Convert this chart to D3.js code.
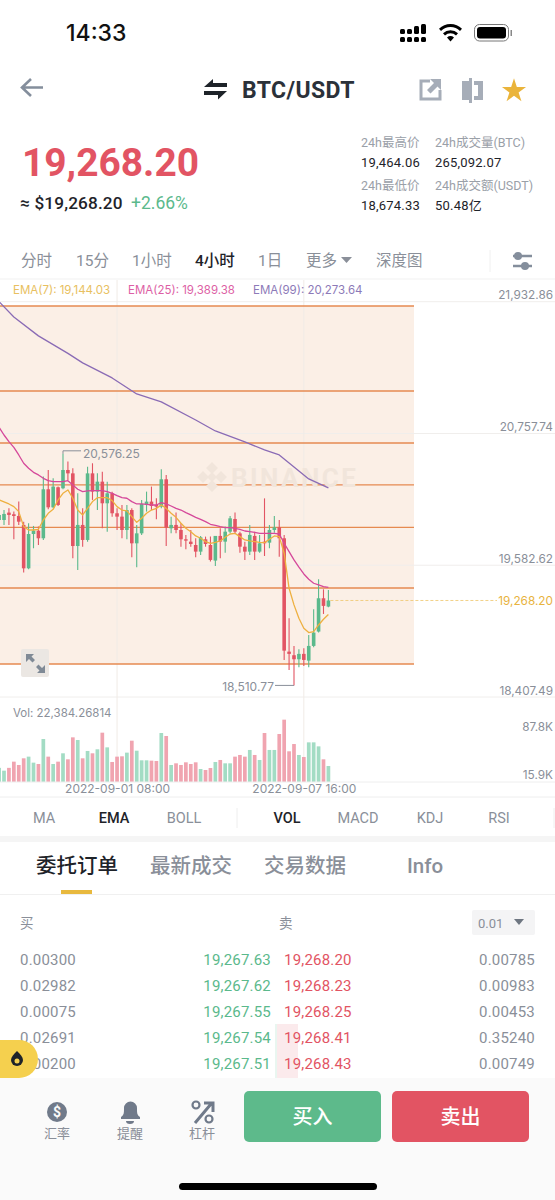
<!DOCTYPE html>
<html><head><meta charset="utf-8">
<script src="https://cdn.jsdelivr.net/npm/d3@7/dist/d3.min.js"></script>
<style>
html,body{margin:0;padding:0;background:#fff;width:555px;height:1200px;overflow:hidden}
svg{display:block}
text{font-family:Roboto,"Noto Sans CJK SC",sans-serif}
</style></head><body><svg id="c" width="555" height="1200" viewBox="0 0 555 1200"></svg>
<script>
// ---- chart data ----
const highs=[20075,20075,20090,20061,20150,19971,19957,19933,19927,20373,20432,20358,20284,20576.25,20507,20447,20224,20090,20462,20492,20402,20417,20328,20239,20090,20120,20120,20090,19942,20165,20239,20284,20179,20438,20388,20016,20052,19957,19852,19897,19823,19844,19838,19838,19844,19912,19927,20022,20052,19882,19793,19942,19882,19853,20179,19942,20022,19986,19853,19110,18863,18833,18842,18961,19190,19458,19368,19362];
const lows=[19942,19942,19942,19814,19942,19517,19546,19734,19763,19808,20081,20090,20111,20260,20343,19644,19540,19748,19793,20165,20075,19912,19882,20016,19897,19823,19814,19653,19564,19852,20061,20075,19992,20090,19754,19867,19867,19748,19725,19748,19653,19674,19748,19615,19576,19644,19695,19867,19867,19695,19630,19674,19630,19695,19665,19734,19873,19659,18738,18649,18510.77,18673,18685,18673,18851,18982,19148,19208];
const opens=[19986,19986,20052,20037,20022,19942,19555,19861,19891,19823,20260,20099,20278,20269,20432,20402,19754,19942,19808,20402,20239,20328,20135,20224,20046,20016,19897,20075,19778,19867,20120,20150,20120,20105,20349,19912,19942,19897,19814,19793,19763,19704,19814,19763,19624,19844,19793,19882,19995,19867,19748,19704,19844,19704,19793,19784,19897,19921,19823,18812,18780,18744,18792,18732,18863,18991,19288,19214];
const closes=[20031,20040,20031,20022,19971,19555,19861,19891,19823,20260,20099,20284,20120,20432,20402,19754,19942,19808,20402,20239,20328,20135,20224,20046,20016,19897,20075,19778,19867,20129,20150,20111,20105,20349,19918,19942,19897,19814,19802,19772,19704,19832,19772,19630,19844,19793,19882,20001,19882,19748,19704,19853,19704,19778,19778,19897,19921,19823,18821,18792,18744,18792,18738,18863,18982,19288,19220,19268.2];
const volumes=[26.6,22.4,26.6,35.9,30.9,40.9,43.4,34.4,32.4,69.8,43.4,32.4,35.9,48.4,39.4,72.3,68.3,40.9,51.9,48.4,54.4,79.3,57.3,35.4,43.4,43.9,49.4,67.3,52.3,37.9,37.9,37.4,36.9,78.8,74.3,30.9,33.4,30.9,34.9,32.4,34.9,24.9,23.4,26.4,35.4,38.4,33.4,33.4,43.4,45.9,43.4,53.4,45.9,38.4,78.8,53.4,53.4,77.3,98.8,51.4,62.3,45.9,42.9,64.8,64.8,58.8,39.4,29.4];
const ema7=[20165,20147,20129,20105,20061,19927,19897,19897,19903,19986,20046,20081,20165,20224,20254,20180,20075,20031,20090,20150,20185,20185,20185,20159,20105,20075,20067,20016,19965,20001,20046,20075,20090,20120,20090,20046,20010,19957,19912,19882,19844,19823,19793,19778,19787,19799,19832,19861,19867,19838,19808,19799,19793,19787,19784,19814,19844,19838,19690,19377,19229,19110,19021,18982,18991,19050,19101,19144];
const ema25=[20813,20744,20685,20634,20566,20492,20447,20411,20388,20358,20337,20328,20328,20328,20337,20298,20260,20239,20245,20248,20248,20248,20239,20224,20203,20185,20180,20150,20129,20129,20126,20120,20120,20141,20129,20111,20090,20075,20052,20031,20010,19992,19971,19948,19939,19927,19918,19918,19912,19903,19888,19882,19876,19867,19867,19867,19867,19861,19779,19704,19630,19565,19505,19458,19422,19407,19392,19386];
const ema99Index=[0,3,8,14,17,23,28,33,40,44,50,54,57,60,63,67];
const ema99Values=[21933,21797,21628,21472,21387,21253,21110,21039,20878,20780,20682,20611,20566,20459,20352,20272];
const fibLevels=[21895,21137,20673,20299,19920,19380,18702];
const priceTicks=[21932.86,20757.74,19582.62,18407.49];
const volumeTicks=[87.8,15.9];
const timeTickIndex=[24,62];
const timeTickLabels=["2022-09-01 08:00","2022-09-07 16:00"];
const lastPrice=19268.20;
// ---- order book ----
const bidQty=["0.00300","0.02982","0.00075","0.02691","0.00200"];
const bidPrice=["19,267.63","19,267.62","19,267.55","19,267.54","19,267.51"];
const askPrice=["19,268.20","19,268.23","19,268.25","19,268.41","19,268.43"];
const askQty=["0.00785","0.00983","0.00453","0.35240","0.00749"];
// ---- labels ----
const periodTabs=["分时","15分","1小时","4小时","1日","更多","深度图"];
const indicatorTabs=["MA","EMA","BOLL","VOL","MACD","KDJ","RSI"];
const bookTabs=["委托订单","最新成交","交易数据","Info"];

const GREEN="#5bb98c",RED="#e25463",GREY="#8a8f99",DARK="#1e2329",ORANGE="#e68a50";
const AXF="Inter,Roboto,sans-serif";
const svg=d3.select("#c");
const T=(x,y,s,size,fill,opt={})=>svg.append("text").attr("x",x).attr("y",y).attr("dy",".35em")
  .attr("font-size",size).attr("fill",fill).attr("font-weight",opt.w||400)
  .attr("text-anchor",opt.a||"start").attr("letter-spacing",opt.ls||0).text(s);

const idx=d3.range(highs.length);
const x=d3.scaleLinear().domain([0,67]).range([-0.9,328.4]);
const y=d3.scaleLinear().domain([18407.49,21932.86]).range([697,301.7]);
const yv=d3.scaleLinear().domain([15.9,87.8]).range([775,727]);
const VBASE=782;

// background fib zone
svg.append("rect").attr("x",0).attr("y",y(fibLevels[0])).attr("width",414)
  .attr("height",y(fibLevels[6])-y(fibLevels[0])).attr("fill","#fbefe6");

// horizontal and vertical grid
svg.append("g").selectAll("line").data(priceTicks).join("line")
  .attr("x1",0).attr("x2",555).attr("y1",d=>y(d)).attr("y2",d=>y(d)).attr("stroke","#f0eeec");
svg.append("g").selectAll("line").data(timeTickIndex).join("line")
  .attr("x1",d=>x(d)).attr("x2",d=>x(d)).attr("y1",280).attr("y2",VBASE).attr("stroke","#f0ebe6");

// fib lines
svg.append("g").selectAll("line").data(fibLevels).join("line")
  .attr("x1",0).attr("x2",414).attr("y1",d=>y(d)).attr("y2",d=>y(d))
  .attr("stroke",ORANGE).attr("stroke-width",1.4);

// watermark
svg.append("path").attr("fill","#f1e5db")
  .attr("d","M212 462l6 6-6 6-6-6zM203 471l6 6-6 6-6-6zM221 471l6 6-6 6-6-6zM212 480l6 6-6 6-6-6zM212 472l5 5-5 5-5-5z");
T(231,478,"BINANCE",26,"#f1e5db",{w:700,ls:2.2}).attr("textLength",127);

// wicks, bodies
const up=i=>closes[i]>=opens[i];
svg.append("g").selectAll("line").data(idx).join("line")
  .attr("x1",i=>x(i)).attr("x2",i=>x(i)).attr("y1",i=>y(highs[i])).attr("y2",i=>y(lows[i]))
  .attr("stroke",i=>up(i)?GREEN:RED).attr("stroke-width",1.1);
svg.append("g").selectAll("rect").data(idx).join("rect")
  .attr("x",i=>x(i)-1.8).attr("width",3.6)
  .attr("y",i=>y(Math.max(opens[i],closes[i])))
  .attr("height",i=>Math.max(1,Math.abs(y(opens[i])-y(closes[i]))))
  .attr("fill",i=>up(i)?GREEN:RED);

// EMA lines
const line=d3.line().x(d=>x(d[0])).y(d=>y(d[1]));
const ln=(pts,c)=>svg.append("path").attr("d",line(pts)).attr("fill","none").attr("stroke",c).attr("stroke-width",1.3).attr("stroke-linejoin","round");
ln(idx.map(i=>[i,ema25[i]]),"#d5489a");
ln(ema99Index.map((d,i)=>[d,ema99Values[i]]),"#8a6bb5");
ln(idx.map(i=>[i,ema7[i]]),"#eeb040");

// last price line
svg.append("line").attr("x1",x(67)+2).attr("x2",497).attr("y1",y(lastPrice)).attr("y2",y(lastPrice))
  .attr("stroke","#efc56a").attr("stroke-dasharray","3 2").attr("stroke-width",.8);

// axis: price
const ya=d3.axisRight(y).tickValues(priceTicks).tickSize(0).tickFormat(d3.format(",.2f"));
const gy=svg.append("g").attr("transform","translate(497,-6.5)").call(ya);
gy.select(".domain").remove();
gy.selectAll("text").attr("font-size",11.8).attr("fill",GREY).attr("x",56).attr("text-anchor","end").style("font-family",AXF);
svg.append("rect").attr("x",497).attr("y",y(lastPrice)-8).attr("width",58).attr("height",16).attr("fill","#fff");
T(553,y(lastPrice),d3.format(",.2f")(lastPrice),11.8,"#e8b33e",{a:"end"}).style("font-family",AXF);

// high / low callouts
svg.append("path").attr("fill","none").attr("stroke",GREY)
  .attr("d",`M${x(13)} ${y(highs[13])}V${y(highs[13])-3}H81`);
T(83,454,d3.format(",.2f")(highs[13]),12,GREY).style("font-family",AXF);
svg.append("path").attr("fill","none").attr("stroke",GREY)
  .attr("d",`M275 ${y(lows[60])}H${x(60)}`);
T(274,687,d3.format(",.2f")(lows[60]),12,GREY,{a:"end"}).style("font-family",AXF);

// expand icon
svg.append("rect").attr("x",21).attr("y",649).attr("width",28).attr("height",28).attr("rx",2).attr("fill","#ebe7e3");
svg.append("path").attr("fill","#7f8a96").attr("d","M26 654h8l-2.500 2.500 3.500 3.500-2.500 2.500-3.500-3.500-3 3zM45 673h-8l2.500-2.500-3.500-3.500 2.500-2.500 3.500 3.500 3-3z");

// EMA legend
T(13,290,"EMA(7): 19,144.03",11.5,"#e8c060").style("font-family",AXF);
T(128,290,"EMA(25): 19,389.38",11.5,"#dd5fa5").style("font-family",AXF);
T(253,290,"EMA(99): 20,273.64",11.5,"#8d7ab8").style("font-family",AXF);

// volume
svg.append("g").selectAll("rect").data(idx).join("rect")
  .attr("x",i=>x(i)-1.85).attr("width",3.7)
  .attr("y",i=>yv(volumes[i])).attr("height",i=>VBASE-yv(volumes[i]))
  .attr("fill",i=>up(i)?"#a3dcc4":"#f0a4b0");
svg.append("line").attr("x1",0).attr("x2",555).attr("y1",VBASE).attr("y2",VBASE).attr("stroke","#eeeeee");
svg.append("line").attr("x1",0).attr("x2",555).attr("y1",797).attr("y2",797).attr("stroke","#eeeeee");
T(13,713,"Vol: 22,384.26814",11.5,GREY).style("font-family",AXF);
const gv=svg.append("g").attr("transform","translate(497,0)").call(d3.axisRight(yv).tickValues(volumeTicks).tickSize(0).tickFormat(d=>d+"K"));
gv.select(".domain").remove();
gv.selectAll("text").attr("font-size",11.8).attr("fill",GREY).attr("x",56).attr("text-anchor","end").style("font-family",AXF);

// time axis
const xa=d3.axisBottom(x).tickValues(timeTickIndex).tickSize(0).tickFormat((d,i)=>timeTickLabels[i]);
const gx=svg.append("g").attr("transform",`translate(0,${VBASE})`).call(xa);
gx.select(".domain").remove();
gx.selectAll("text").attr("font-size",12).attr("fill",GREY).attr("y",2.5).attr("dy","0.71em").style("font-family",AXF);

// status bar
T(66,33,"14:33",23,"#111",{w:500}).style("font-family",AXF);
const sig=svg.append("g").attr("fill","#000");
[[400,29,5],[407,29,5],[414,26,8],[421,24,10]].forEach(d=>sig.append("rect").attr("x",d[0]).attr("y",d[1]).attr("width",5).attr("height",d[2]).attr("rx",1.5));
[400,407,414,421].forEach(a=>sig.append("rect").attr("x",a).attr("y",37).attr("width",5).attr("height",5).attr("rx",1.5));
svg.append("path").attr("fill","#000").attr("d","M450.5 41.5l-3.5-4a5.5 5.5 0 0 1 7 0zM445 35.5l-2-2.3a11 11 0 0 1 15 0l-2 2.3a8 8 0 0 0-11 0zM441 31l-2-2.300a16.500 16.500 0 0 1 23 0l-2 2.300a13.500 13.500 0 0 0-19 0z");
svg.append("rect").attr("x",474.5).attr("y",24.5).attr("width",34).attr("height",16.5).attr("rx",5).attr("fill","none").attr("stroke","#777");
svg.append("rect").attr("x",477).attr("y",27).attr("width",29).attr("height",11.5).attr("rx",3).attr("fill","#000");
svg.append("rect").attr("x",510.5).attr("y",30).attr("width",1.5).attr("height",6).attr("fill","#888");

// nav bar
svg.append("path").attr("fill","none").attr("stroke","#848e9c").attr("stroke-width",2.6).attr("d","M43 87.5H22M31 79l-9 8.500 9 8.500");
svg.append("path").attr("fill",DARK).attr("d","M204 87l9-8v4h14v4zM204 91h23l-9 8.500v-4.500h-14z");
T(242,90,"BTC/USDT",23,"#2b3139",{w:700,ls:.4});
svg.append("path").attr("fill","none").attr("stroke","#a6adb8").attr("stroke-width",3).attr("d","M430 81h-9v18h19v-9");
svg.append("path").attr("fill","#a6adb8").attr("d","M430 79h11v11l-3.500-3.500-7 7-3.500-3.500 7-7z");
svg.append("path").attr("fill","#a6adb8").attr("d","M462 81h7v-3h3v25h-3v-3h-7zM474 81h9v19h-9v-4h4v-11h-4z");
svg.append("path").attr("fill","#eab43b").attr("d",d3.symbol(d3.symbolStar,180)()).attr("transform","translate(514,91)");

// price header
T(22,162,"19,268.20",39,RED,{w:700}).attr("textLength",177).attr("lengthAdjust","spacingAndGlyphs");
T(20,203,"≈ $19,268.20",17.2,DARK,{w:500,ls:.15});
T(131,203,"+2.66%",17.5,GREEN,{w:400});
const S=[[361,143,"24h最高价",0],[435,143,"24h成交量(BTC)",0],[361,186,"24h最低价",0],[435,186,"24h成交额(USDT)",0],[361,162,"19,464.06",1],[435,162,"265,092.07",1],[361,205,"18,674.33",1],[435,205,"50.48亿",1]];
S.forEach(d=>T(d[0],d[1],d[2],d[3]?13:12.5,d[3]?DARK:"#9aa0a8",{ls:d[3]?.2:0}));

// period tabs
const periodX=[21,76,132,195,258,306,376];
periodTabs.forEach((d,i)=>T(periodX[i],261,d,15.5,i==3?DARK:GREY,{w:i==3?500:400}));
svg.append("path").attr("fill",GREY).attr("d","M341 257h11l-5.500 6z");
svg.append("line").attr("x1",490).attr("x2",490).attr("y1",250).attr("y2",272).attr("stroke","#f0f0f0");
svg.append("path").attr("fill","none").attr("stroke","#848e9c").attr("stroke-width",2.5).attr("d","M513 256h19M513 266h19");
svg.append("circle").attr("cx",518).attr("cy",256).attr("r",4).attr("fill","#848e9c");
svg.append("circle").attr("cx",525).attr("cy",266).attr("r",4).attr("fill","#848e9c");
svg.append("line").attr("x1",0).attr("x2",555).attr("y1",279).attr("y2",279).attr("stroke","#f1f1f1");

// indicators
const indX=[44,114,184,287,358,430,499];
indicatorTabs.forEach((d,i)=>T(indX[i],818,d,14.5,(i==1||i==3)?DARK:GREY,{a:"middle",w:(i==1||i==3)?500:400}));
svg.append("line").attr("x1",237).attr("x2",237).attr("y1",808).attr("y2",828).attr("stroke","#eee");
svg.append("line").attr("x1",554).attr("x2",554).attr("y1",808).attr("y2",828).attr("stroke","#eee");
svg.append("rect").attr("x",0).attr("y",836).attr("width",555).attr("height",6).attr("fill","#f5f5f5");

// book tabs
const bookX=[36,150,264,407];
bookTabs.forEach((d,i)=>T(bookX[i],866,d,20.5,i==0?DARK:GREY,{w:500}));
svg.append("rect").attr("x",61).attr("y",890).attr("width",31).attr("height",4).attr("fill","#e8b93e");
svg.append("line").attr("x1",0).attr("x2",555).attr("y1",894.5).attr("y2",894.5).attr("stroke","#f0f0f0");

// book
T(20,923,"买",13.5,GREY); T(279,923,"卖",13.5,GREY);
svg.append("rect").attr("x",472).attr("y",910).attr("width",63).attr("height",25).attr("rx",2).attr("fill","#f4f4f5");
T(478,923,"0.01",13,GREY);
svg.append("path").attr("fill","#6e7681").attr("d","M514 919h10l-5 6z");
svg.append("rect").attr("x",275).attr("y",1024).attr("width",2).attr("height",54).attr("fill","#e9f6f0");
svg.append("rect").attr("x",277).attr("y",1024).attr("width",21).attr("height",54).attr("fill","#fbeaec");
const rowY=[959.5,985.5,1011.5,1037.5,1063.5];
rowY.forEach((ry,i)=>{
  T(20,ry,bidQty[i],15,GREY,{ls:.2});
  T(271,ry,bidPrice[i],15,GREEN,{a:"end",ls:.2});
  T(284,ry,askPrice[i],15,RED,{ls:.2});
  T(535,ry,askQty[i],15,GREY,{a:"end",ls:.2});
});

// footer
svg.append("rect").attr("x",0).attr("y",1078).attr("width",555).attr("height",122).attr("fill","#fafafa");
svg.append("rect").attr("x",244).attr("y",1091).attr("width",137).attr("height",51).attr("rx",5).attr("fill","#5dba8b");
svg.append("rect").attr("x",392).attr("y",1091).attr("width",137).attr("height",51).attr("rx",5).attr("fill",RED);
T(312.5,1117,"买入",20,"#fff",{a:"middle",w:500});
T(460.5,1117,"卖出",20,"#fff",{a:"middle",w:500});
svg.append("circle").attr("cx",57).attr("cy",1112).attr("r",10).attr("fill","#707a8a");
T(57,1112,"$",14,"#fafafa",{a:"middle",w:700});
svg.append("path").attr("fill","#707a8a").attr("d","M121 1117c3-2 3-4 3-9a6.500 6.500 0 0 1 13 0c0 5 0 7 3 9v2h-19zM126 1121h8a4 3 0 0 1-8 0z");
svg.append("path").attr("fill","none").attr("stroke","#707a8a").attr("stroke-width",3).attr("d","M195 1123l16-19M204 1103h9v9");
svg.append("circle").attr("cx",196).attr("cy",1105).attr("r",3.5).attr("fill","none").attr("stroke","#707a8a").attr("stroke-width",2.2);
svg.append("circle").attr("cx",209).attr("cy",1119).attr("r",3.5).attr("fill","none").attr("stroke","#707a8a").attr("stroke-width",2.2);
T(57,1133,"汇率",13,GREY,{a:"middle"});
T(130,1133,"提醒",13,GREY,{a:"middle"});
T(202,1133,"杠杆",13,GREY,{a:"middle"});
svg.append("rect").attr("x",179).attr("y",1183).attr("width",198).attr("height",7).attr("rx",3.5).attr("fill","#000");
svg.append("path").attr("fill","#f5d04e").attr("d","M0 1040h19a19 19 0 0 1 0 38H0z");
svg.append("path").attr("fill","#1e2329").attr("d","M17 1051c3 3 6 6 6 9a6 6 0 0 1-12 0c0-3 3-6 6-9z");
svg.append("circle").attr("cx",17).attr("cy",1061).attr("r",2.5).attr("fill","#f5d04e");
</script></body></html>
